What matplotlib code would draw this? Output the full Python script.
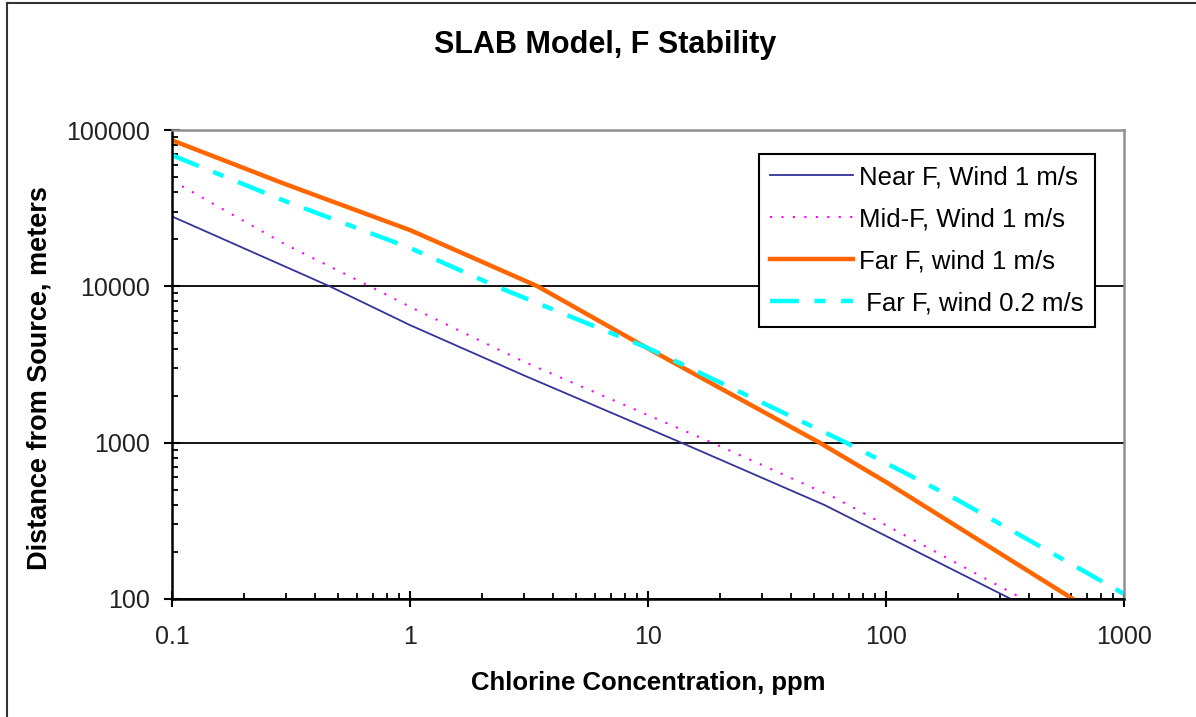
import matplotlib
matplotlib.use("Agg")
import matplotlib.pyplot as plt
from matplotlib.lines import Line2D
from matplotlib.ticker import LogLocator, FuncFormatter, NullFormatter

plt.rcParams['font.family'] = ['Liberation Sans', 'DejaVu Sans']

# concentration (ppm) vs distance (m)
near_x = [0.1, 0.46, 1, 3, 13.8, 55, 335]
near_y = [28000, 10000, 5650, 2700, 1000, 400, 100]

mid_x = [0.1, 0.3, 0.68, 1, 3, 18.6, 60, 360]
mid_y = [47500, 18500, 10000, 7400, 3300, 1000, 450, 104]

farw1_x = [0.1, 0.3, 1, 3.44, 10, 52.6, 100, 610]
farw1_y = [86000, 45000, 22900, 10000, 4000, 1000, 560, 100]

farw02_x = [0.1, 0.3, 1, 2.3, 10, 68, 200, 1000]
farw02_y = [69000, 35000, 17600, 10000, 4030, 1000, 430, 108]

labels = ['Near F, Wind 1 m/s', 'Mid-F, Wind 1 m/s',
          'Far F, wind 1 m/s', ' Far F, wind 0.2 m/s']

fig = plt.figure(figsize=(11.96, 7.17), dpi=100)
ax = fig.add_axes([172 / 1196, 1 - 599 / 717, 952 / 1196, 469 / 717])

ax.plot(near_x, near_y, color='#333399', lw=1.3, label=labels[0])
ax.plot(mid_x, mid_y, color='#FF00FF', lw=1.5, dashes=(1, 4.5), label=labels[1])
ax.plot(farw1_x, farw1_y, color='#FF6600', lw=3.2, label=labels[2])
ax.plot(farw02_x, farw02_y, color='#00FFFF', lw=3.2, dashes=(6.5, 3.5, 2.5, 3.5), label=labels[3])

ax.set_xscale('log')
ax.set_yscale('log')
ax.set_xlim(0.1, 1000)
ax.set_ylim(100, 100000)

ax.xaxis.set_major_formatter(FuncFormatter(lambda v, p: '%g' % v))
ax.yaxis.set_major_formatter(FuncFormatter(lambda v, p: '%d' % v))
ax.xaxis.set_minor_locator(LogLocator(base=10, subs=range(2, 10)))
ax.yaxis.set_minor_locator(LogLocator(base=10, subs=range(2, 10)))
ax.xaxis.set_minor_formatter(NullFormatter())
ax.yaxis.set_minor_formatter(NullFormatter())

ax.tick_params(which='major', direction='inout', length=11, width=1.5,
               labelsize=18, labelcolor='#222222')
ax.tick_params(axis='x', which='major', pad=13)
ax.tick_params(axis='y', which='major', pad=10)
ax.tick_params(which='minor', direction='in', length=4, width=1.3)

ax.yaxis.grid(True, which='major', color='black', lw=1.3)
ax.set_axisbelow(True)

for s in ['left', 'bottom']:
    ax.spines[s].set_color('black')
    ax.spines[s].set_linewidth(1.8)
for s in ['top', 'right']:
    ax.spines[s].set_color('#909090')
    ax.spines[s].set_linewidth(1.8)

# the title sits over the whole chart area, not the plot area
fig.text(605 / 1196, 1 - 53 / 717, 'SLAB Model, F Stability', fontsize=22,
         fontweight='bold', ha='center', va='baseline')
ax.set_xlabel('Chlorine Concentration, ppm', fontsize=18.5, fontweight='bold', labelpad=16)
ax.set_ylabel('Distance from Source, meters', fontsize=19.5, fontweight='bold')
ax.yaxis.set_label_coords(-0.125, 0.471)

leg = ax.legend(loc='upper right', bbox_to_anchor=(0.9696, 0.949), fontsize=18.5,
                handlelength=3.2, fancybox=False, edgecolor='black',
                framealpha=1, borderpad=0.45, labelspacing=0.7, handletextpad=0.25,
                borderaxespad=0)
leg.get_frame().set_linewidth(1.5)

# outer chart border (only the left and top edges are in frame)
fig.add_artist(Line2D([7 / 1196, 7 / 1196], [0, 1 - 3 / 717], transform=fig.transFigure,
                      color='#333333', lw=1.5))
fig.add_artist(Line2D([7 / 1196, 1], [1 - 3 / 717, 1 - 3 / 717], transform=fig.transFigure,
                      color='#333333', lw=1.5))

fig.savefig('out.png', dpi=100)
